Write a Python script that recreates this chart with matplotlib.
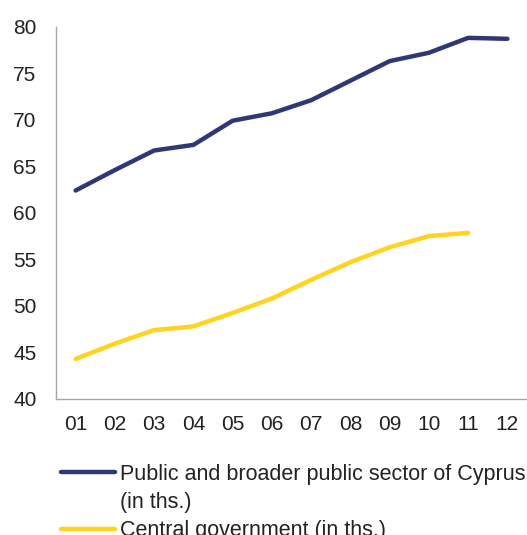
import matplotlib
matplotlib.use("Agg")
import matplotlib.pyplot as plt
from matplotlib.lines import Line2D

years = ["01", "02", "03", "04", "05", "06", "07", "08", "09", "10", "11", "12"]
public_sector = [62.4, 64.6, 66.7, 67.3, 69.9, 70.7, 72.1, 74.2, 76.3, 77.2, 78.8, 78.7]
central_gov = [44.3, 45.95, 47.4, 47.8, 49.25, 50.8, 52.8, 54.7, 56.3, 57.5, 57.85]
yticks = [40, 45, 50, 55, 60, 65, 70, 75, 80]

plt.rcParams['font.family'] = ['Liberation Sans', 'DejaVu Sans']

fig = plt.figure(figsize=(5.27, 5.35), dpi=100)
ax = fig.add_axes([56/527, 136/535, 471/527, (399-26.7)/535])

x_pub = list(range(len(public_sector)))
x_cen = list(range(len(central_gov)))
blue = "#2E3877"
yellow = "#FFD320"
ax.plot(x_pub, public_sector, color=blue, lw=3.2, solid_capstyle="round")
ax.plot(x_cen, central_gov, color=yellow, lw=3.2, solid_capstyle="round")

ax.set_xlim(-0.5, 11.5)
ax.set_ylim(40, 80)
ax.set_xticks(range(len(years)))
ax.set_xticklabels(years)
ax.set_yticks(yticks)
for s in ["top", "right"]:
    ax.spines[s].set_visible(False)
for s in ["left", "bottom"]:
    ax.spines[s].set_color("#A6A6A6")
    ax.spines[s].set_linewidth(1.0)
ax.tick_params(axis="both", length=0, labelsize=15, colors="#222222")
ax.tick_params(axis="y", pad=14)
ax.tick_params(axis="x", pad=11.5)

handles = [Line2D([], [], color=blue, lw=3.2, solid_capstyle="round"),
           Line2D([], [], color="none", lw=0),
           Line2D([], [], color=yellow, lw=3.2, solid_capstyle="round")]
labels = ["Public and broader public sector of Cyprus", "(in ths.)", "Central government (in ths.)"]
leg = fig.legend(handles, labels, loc="upper left", bbox_to_anchor=(61/527, 1 - 464/535), frameon=False,
                 fontsize=15.5, handlelength=2.5, handletextpad=0.22, labelspacing=0.33,
                 borderaxespad=0, borderpad=0)
for t in leg.get_texts():
    t.set_color("#222222")

fig.savefig("out.png", dpi=100)
